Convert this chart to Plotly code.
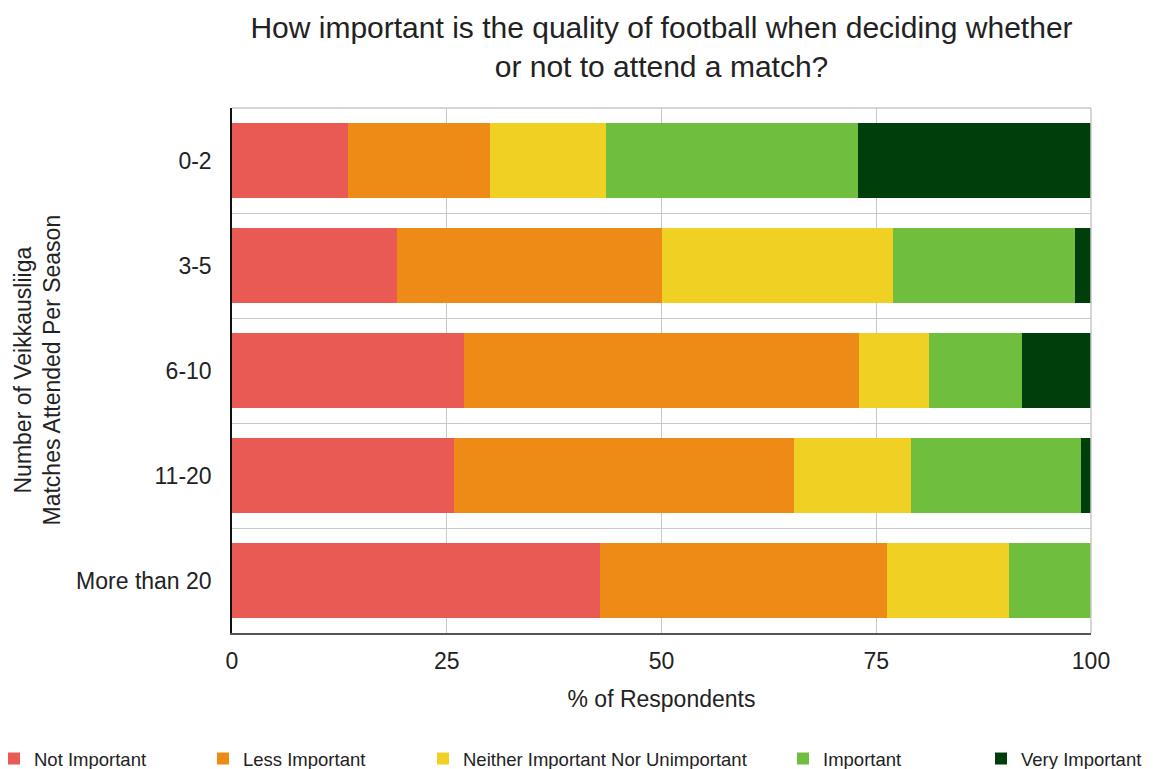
import plotly.graph_objects as go

categories = ["0-2", "3-5", "6-10", "11-20", "More than 20"]
series_names = ["Not Important", "Less Important", "Neither Important Nor Unimportant",
                "Important", "Very Important"]
not_important = [13.5, 19.2, 27.0, 25.9, 42.8]
less_important = [16.5, 30.8, 46.0, 39.5, 33.4]
neither = [13.5, 26.9, 8.1, 13.7, 14.3]
important = [29.4, 21.2, 10.9, 19.7, 9.5]
very_important = [27.1, 1.9, 8.0, 1.2, 0.0]
x_ticks = [0, 25, 50, 75, 100]

colors = ["#E95A55", "#EE8B17", "#F0D022", "#6FBE3E", "#003F0B"]
values = [not_important, less_important, neither, important, very_important]

FONT = "Liberation Sans"
TXT = "#222222"
GRID = "#C8C8C8"
W, H = 1157, 769
ML, MR, MT, MB = 232, 66, 108, 136
PW = W - ML - MR

fig = go.Figure()
legend_sq_left = [8, 217, 437, 797, 995]
for i, (name, vals, col) in enumerate(zip(series_names, values, colors)):
    lg = "legend" if i == 0 else f"legend{i+1}"
    fig.add_trace(go.Bar(
        x=vals, y=categories, name=name, orientation="h",
        marker=dict(color=col, line=dict(width=0)),
        width=0.705, legend=lg,
    ))

layout_legends = {}
for i, px in enumerate(legend_sq_left):
    key = "legend" if i == 0 else f"legend{i+1}"
    layout_legends[key] = dict(
        xref="paper", yref="container",
        x=(px - 14 - ML) / PW, y=1 - 759 / H,
        xanchor="left", yanchor="middle",
        font=dict(family=FONT, size=18.5, color=TXT),
        bgcolor="rgba(0,0,0,0)", itemwidth=30,
    )

fig.update_layout(
    width=W, height=H,
    margin=dict(l=ML, r=MR, t=MT, b=MB, autoexpand=False),
    paper_bgcolor="white", plot_bgcolor="white",
    barmode="stack", bargap=0.295,
    showlegend=True,
    title=dict(
        text="How important is the quality of football when deciding whether<br>or not to attend a match?",
        x=(ML + W - MR) / 2 / W, xanchor="center", xref="container",
        y=1 - 38 / H, yanchor="top", yref="container",
        font=dict(family=FONT, size=30, color=TXT),
    ),
    xaxis=dict(
        range=[0, 100], tickvals=x_ticks, ticktext=[str(v) for v in x_ticks],
        showgrid=True, gridcolor=GRID, gridwidth=1,
        showline=True, linecolor="#555555", linewidth=1.5,
        zeroline=False, ticks="",
        tickfont=dict(family=FONT, size=23, color=TXT),
        ticklabelstandoff=7,
        title=dict(text="% of Respondents", font=dict(family=FONT, size=23, color=TXT), standoff=18),
    ),
    yaxis=dict(
        type="category", categoryorder="array", categoryarray=categories,
        range=[4.5, -0.5], tickson="boundaries",
        showgrid=True, gridcolor=GRID, gridwidth=1,
        showline=True, linecolor="#111111", linewidth=1.5,
        ticks="", zeroline=False,
        tickfont=dict(family=FONT, size=23, color=TXT),
        ticklabelstandoff=14,
    ),
    annotations=[dict(
        text="Number of Veikkausliiga<br>Matches Attended Per Season",
        xref="paper", yref="paper", x=(37 - ML) / PW, y=0.5,
        xanchor="center", yanchor="middle", textangle=-90, showarrow=False,
        font=dict(family=FONT, size=23, color=TXT),
    )],
    shapes=[
        dict(type="line", xref="paper", yref="paper", x0=0, x1=1, y0=1, y1=1,
             line=dict(color=GRID, width=1.5), layer="above"),
        dict(type="line", xref="paper", yref="paper", x0=1, x1=1, y0=0, y1=1,
             line=dict(color=GRID, width=1.5), layer="above"),
    ],
    **layout_legends,
)

fig.write_html("out.html", config={"displayModeBar": False},
               post_script="document.body.style.margin='0';")
